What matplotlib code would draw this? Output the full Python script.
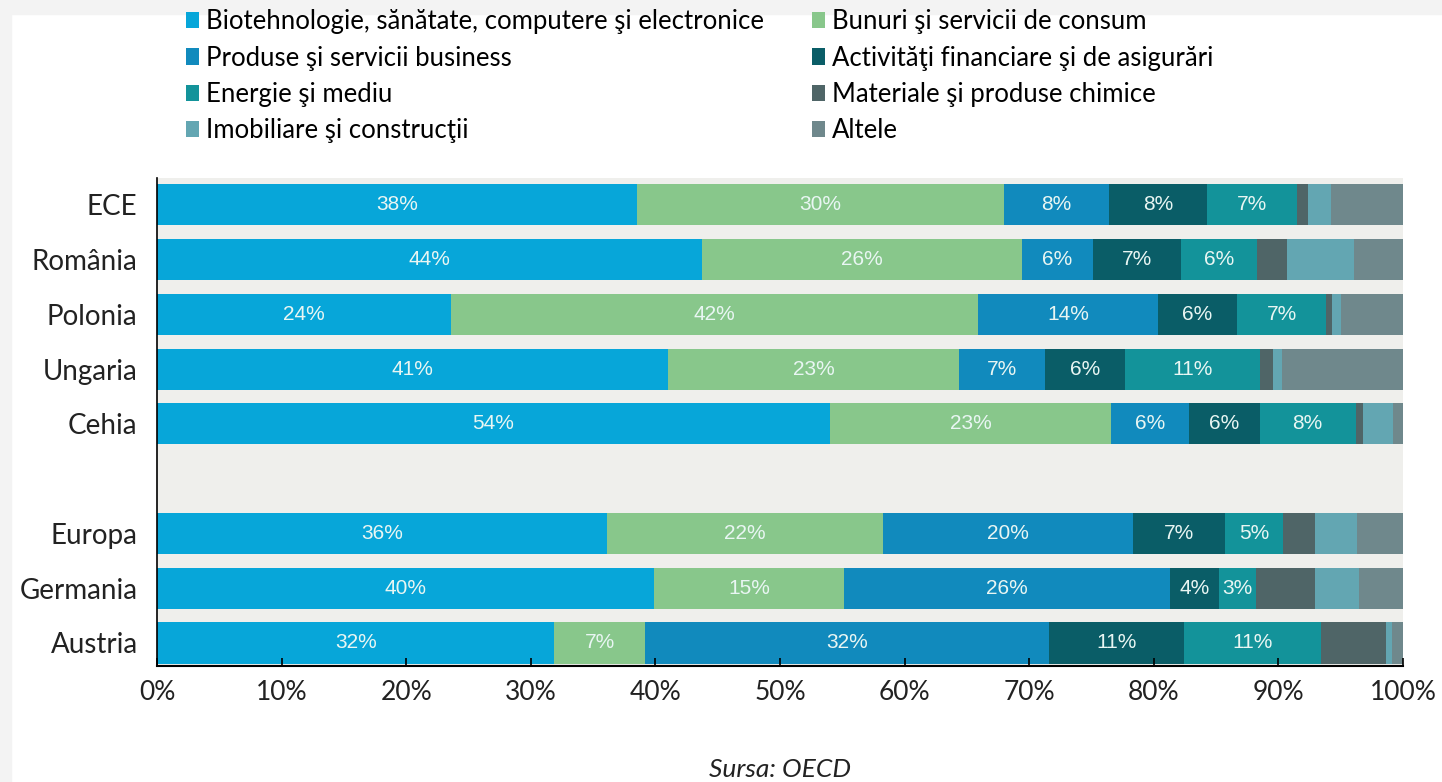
import matplotlib.pyplot as plt
from matplotlib.patches import Patch, Rectangle

countries = ["ECE", "România", "Polonia", "Ungaria", "Cehia",
             "Europa", "Germania", "Austria"]
gap_after = 4  # empty row after Cehia

sectors = [
    "Biotehnologie, sănătate, computere şi electronice",
    "Bunuri şi servicii de consum",
    "Produse şi servicii business",
    "Activităţi financiare şi de asigurări",
    "Energie şi mediu",
    "Materiale şi produse chimice",
    "Imobiliare şi construcţii",
    "Altele",
]

biotech    = [38.5, 43.7, 23.6, 41.0, 54.0, 36.1, 39.9, 31.9]
consum     = [29.5, 25.7, 42.3, 23.4, 22.6, 22.2, 15.2, 7.3]
business   = [8.4, 5.7, 14.4, 6.9, 6.2, 20.0, 26.2, 32.4]
financiare = [7.9, 7.1, 6.4, 6.4, 5.7, 7.4, 3.9, 10.8]
energie    = [7.2, 6.1, 7.1, 10.8, 7.7, 4.7, 3.0, 11.0]
materiale  = [0.9, 2.4, 0.5, 1.1, 0.6, 2.5, 4.7, 5.2]
imobiliare = [1.8, 5.4, 0.7, 0.7, 2.4, 3.4, 3.6, 0.5]
altele     = [5.8, 3.9, 5.0, 9.7, 0.8, 3.7, 3.5, 0.9]

series = [biotech, consum, business, financiare, energie,
          materiale, imobiliare, altele]
colors = ["#07a6d9", "#88c78b", "#118abd", "#0a5d67",
          "#13939a", "#4f6567", "#63a6b2", "#6f888c"]
labelled = 5  # only first five sectors carry value labels

plt.rcParams['font.family'] = ['Lato', 'DejaVu Sans']

fig = plt.figure(figsize=(14.42, 7.82), dpi=100)
fig.patch.set_facecolor("white")
# thin grey page margin at the top and left
fig.patches.append(Rectangle((0, 1 - 14 / 782), 1, 14 / 782,
                             transform=fig.transFigure, color="#f3f3f3", zorder=-10))
fig.patches.append(Rectangle((0, 0), 11 / 1442, 1,
                             transform=fig.transFigure, color="#f3f3f3", zorder=-10))

ax = fig.add_axes([157 / 1442, 1 - 666 / 782, (1403 - 157) / 1442, (666 - 178) / 782])
ax.set_facecolor("#efefec")

ypos = [i if i <= gap_after else i + 1 for i in range(len(countries))]

left = [0.0] * len(countries)
for k, (vals, col) in enumerate(zip(series, colors)):
    bars = ax.barh(ypos, vals, left=left, height=0.75, color=col,
                   edgecolor="none", label=sectors[k])
    if k < labelled:
        for b, v, l0 in zip(bars, vals, left):
            if round(v) >= 3:
                ax.text(l0 + v / 2, b.get_y() + b.get_height() / 2,
                        f"{round(v)}%", ha="center", va="center",
                        color="#e9f6f3", fontsize=15, family="Liberation Sans")
    left = [a + b for a, b in zip(left, vals)]

ax.set_xlim(0, 100)
ax.set_ylim(8.42, -0.49)
ax.set_yticks(ypos)
ax.set_yticklabels(countries, fontsize=20, color="#222222")
ax.set_xticks(range(0, 101, 10))
ax.set_xticklabels([f"{t}%" for t in range(0, 101, 10)], fontsize=19, color="#222222")
ax.tick_params(axis="y", length=0, pad=14)
ax.tick_params(axis="x", direction="in", length=6, width=1.2, pad=10)
for s in ["top", "right"]:
    ax.spines[s].set_visible(False)
ax.spines["left"].set_linewidth(1.2)
ax.spines["bottom"].set_linewidth(1.5)

handles = [Patch(facecolor=c, edgecolor="none") for c in colors]
order = [0, 2, 4, 6, 1, 3, 5, 7]
fig.legend([handles[i] for i in order], [sectors[i] for i in order],
           loc="upper left", bbox_to_anchor=(176 / 1442, 1 + 1 / 782),
           ncol=2, frameon=False, fontsize=18.5, handlelength=0.5,
           handleheight=0.6, handletextpad=0.25, columnspacing=1.9,
           labelspacing=0.44, borderaxespad=0)

fig.text(780 / 1442, 1 - 758 / 782, "Sursa: OECD", ha="center", va="top",
         fontsize=19, style="italic", color="#222222")

fig.savefig("out.png", dpi=100, facecolor=fig.get_facecolor())
